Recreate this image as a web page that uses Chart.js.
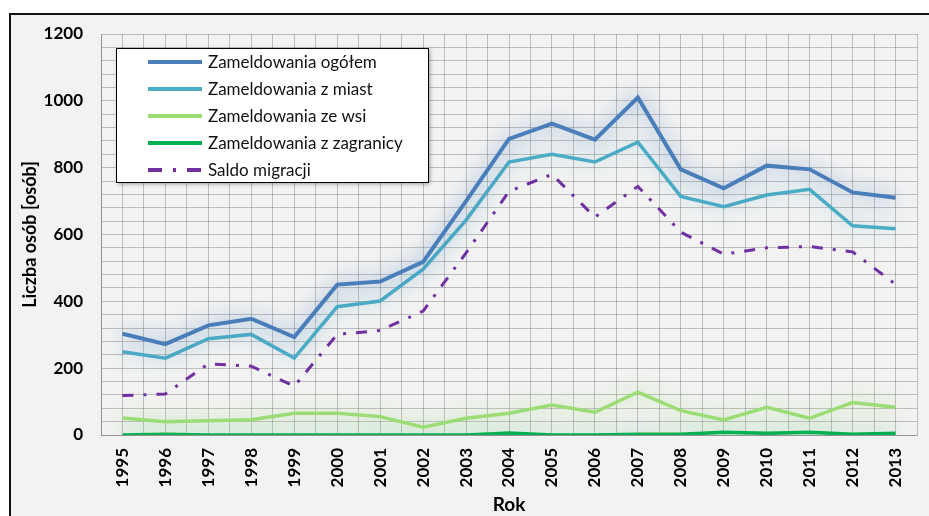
<!DOCTYPE html>
<html>
<head>
<meta charset="utf-8">
<script src="https://cdn.jsdelivr.net/npm/chart.js@4.4.1/dist/chart.umd.min.js"></script>
<style>
  html, body { margin: 0; padding: 0; background: #fff; overflow: hidden; }
  #frame { position: absolute; left: 9px; top: 13px; width: 940px; height: 520px; background: #f2f2f2; border-left: 2px solid #111; border-top: 2px solid #111; }
  #wrap { position: absolute; left: 0; top: 0; width: 929px; height: 516px; }
</style>
</head>
<body>
<div id="frame"></div>
<div id="wrap"><canvas id="chart" width="929" height="516"></canvas></div>
<script>
// Years on the x-axis
const years = [1995, 1996, 1997, 1998, 1999, 2000, 2001, 2002, 2003, 2004, 2005, 2006, 2007, 2008, 2009, 2010, 2011, 2012, 2013];

// Values (people)
const ogolem     = [303, 272, 328, 348, 293, 450, 459, 518, 700, 886, 932, 884, 1010, 795, 738, 806, 795, 726, 710];
const zMiast     = [249, 230, 288, 301, 230, 384, 401, 496, 643, 817, 840, 817, 876, 714, 683, 718, 735, 626, 617];
const zeWsi      = [51, 40, 43, 46, 65, 65, 55, 23, 50, 65, 90, 68, 128, 73, 45, 83, 50, 97, 83];
const zZagranicy = [0, 2, 0, 0, 0, 0, 0, 0, 0, 6, 0, 0, 2, 2, 8, 5, 8, 2, 5];
const saldo      = [118, 123, 213, 206, 146, 301, 313, 371, 545, 729, 780, 652, 744, 607, 541, 560, 564, 548, 451];

const seriesLabels = ['Zameldowania ogółem', 'Zameldowania z miast', 'Zameldowania ze wsi', 'Zameldowania z zagranicy', 'Saldo migracji'];

const gridColor = 'rgba(0, 0, 0, 0.22)';
const toPoints = vals => years.map((yr, i) => ({ x: yr, y: vals[i] }));

// soft halo behind some lines
const glow = {
  id: 'glow',
  beforeDatasetDraw(chart, args) {
    const ds = chart.data.datasets[args.index];
    if (!ds.glow) return;
    chart.ctx.save();
    chart.ctx.shadowColor = ds.glow;
    chart.ctx.shadowBlur = 20;
  },
  afterDatasetDraw(chart, args) {
    if (chart.data.datasets[args.index].glow) chart.ctx.restore();
  }
};

// legend box inside the plot area
const legendBox = {
  id: 'legendBox',
  afterDraw(chart) {
    const { ctx, chartArea } = chart;
    const x = chartArea.left + 15, y = chartArea.top + 14, w = 312, h = 134;
    ctx.save();
    ctx.shadowColor = 'rgba(0,0,0,0.35)';
    ctx.shadowOffsetX = 2;
    ctx.shadowOffsetY = 2;
    ctx.shadowBlur = 4;
    ctx.fillStyle = '#fff';
    ctx.fillRect(x, y, w, h);
    ctx.shadowColor = 'transparent';
    ctx.strokeStyle = '#000';
    ctx.lineWidth = 1;
    ctx.strokeRect(x + 0.5, y + 0.5, w, h);
    ctx.font = '17px Lato';
    ctx.textBaseline = 'middle';
    chart.data.datasets.forEach((ds, i) => {
      const cy = y + 14 + i * 27;
      ctx.beginPath();
      ctx.setLineDash(ds.borderDash ? [14, 11, 3, 11] : []);
      ctx.strokeStyle = ds.borderColor;
      ctx.lineWidth = 4;
      ctx.moveTo(x + 32, cy);
      ctx.lineTo(x + 86, cy);
      ctx.stroke();
      ctx.setLineDash([]);
      ctx.fillStyle = '#111';
      ctx.fillText(ds.label, x + 92, cy + 1);
    });
    ctx.restore();
  }
};

const ctx = document.getElementById('chart').getContext('2d');
new Chart(ctx, {
  type: 'line',
  data: {
    datasets: [
      { label: seriesLabels[0], data: toPoints(ogolem), borderColor: '#4a7ebb', borderWidth: 4, glow: 'rgba(74,126,187,0.8)' },
      { label: seriesLabels[1], data: toPoints(zMiast), borderColor: '#4bacc6', borderWidth: 3.5, glow: 'rgba(75,172,198,0.45)' },
      { label: seriesLabels[2], data: toPoints(zeWsi), borderColor: '#9bdc74', borderWidth: 3.5, glow: 'rgba(155,220,116,0.8)' },
      { label: seriesLabels[3], data: toPoints(zZagranicy), borderColor: '#00b050', borderWidth: 3.5, glow: 'rgba(0,176,80,0.55)' },
      { label: seriesLabels[4], data: toPoints(saldo), borderColor: '#7030a0', borderWidth: 3, borderDash: [11, 10, 3, 10] }
    ]
  },
  options: {
    responsive: false,
    animation: false,
    layout: { padding: { top: 34, right: 12, left: 0, bottom: 0 } },
    elements: { point: { radius: 0 }, line: { tension: 0 } },
    plugins: { legend: { display: false }, tooltip: { enabled: false } },
    scales: {
      x: {
        type: 'linear',
        min: 1994.5,
        max: 2013.5,
        grid: { color: gridColor, drawTicks: false },
        border: { color: gridColor },
        ticks: {
          stepSize: 0.5,
          autoSkip: false,
          minRotation: 90,
          maxRotation: 90,
          padding: 13,
          color: '#000',
          font: { family: 'Lato', size: 17, weight: 'bold' },
          callback: v => Number.isInteger(v) ? String(v) : ''
        },
        title: { display: true, text: 'Rok', color: '#000', font: { family: 'Lato', size: 19, weight: 'bold' }, padding: { top: 2, bottom: 0 } },
        afterFit: scale => {
          scale.height = 81;
          scale.paddingLeft = 0;
          scale.paddingRight = 0;
        }
      },
      y: {
        min: 0,
        max: 1200,
        grid: { color: gridColor, drawTicks: false },
        border: { color: gridColor },
        ticks: {
          stepSize: 40,
          autoSkip: false,
          padding: 18,
          color: '#000',
          font: { family: 'Lato', size: 17, weight: 'bold' },
          callback: v => v % 200 === 0 ? v : ''
        },
        title: { display: true, text: 'Liczba osób [osób]', color: '#000', font: { family: 'Lato', size: 18, weight: 'bold' }, padding: { top: 19, bottom: 0 } },
        afterFit: scale => { scale.width = 101; }
      }
    }
  },
  plugins: [glow, legendBox]
});
</script>
</body>
</html>
